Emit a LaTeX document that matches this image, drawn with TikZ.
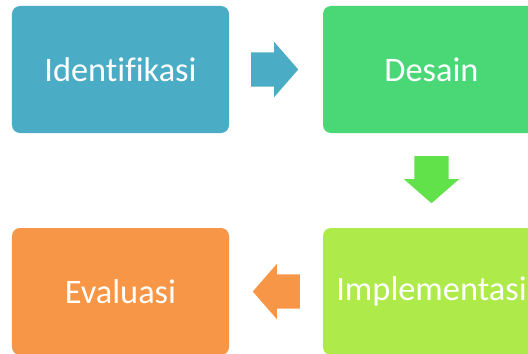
\documentclass[tikz,border=0pt]{standalone}
\usepackage{fontspec}
\setmainfont{Carlito}[Ligatures=NoCommon]
\usetikzlibrary{shapes.arrows,calc}
\definecolor{identblue}{HTML}{4BACC6}
\definecolor{desaingreen}{HTML}{4AD877}
\definecolor{arrowgreen}{HTML}{62E24A}
\definecolor{implime}{HTML}{ADEA4A}
\definecolor{evalorange}{HTML}{F79646}
\begin{document}
\begin{tikzpicture}[
    x=1bp,
    y=1bp,
    font=\fontsize{34.5}{40}\selectfont,
    block/.style={
        rectangle,
        rounded corners=8bp,
        text=white,
        align=center,
        minimum width=217bp,
        minimum height=127bp,
        inner sep=0pt
    },
    blockarrow/.style={
        single arrow,
        anchor=tail,
        minimum height=47bp,
        single arrow head extend=10.5bp,
        single arrow tip angle=98,
        outer sep=0pt
    },
    flat/.style={inner xsep=0pt, inner ysep=17bp},
    upright/.style={inner xsep=17bp, inner ysep=0pt}
]

\useasboundingbox (0,0) rectangle (528,353);

\begin{scope}
\clip (0,0) rectangle (528,353);

\node[block, fill=identblue] (ident) at (120.5,283.5)
{Identifikasi};

\node[block, fill=desaingreen] (desain) at (431.5,283.5)
{Desain};

\node[block, fill=implime] (impl) at (431.5,61.5)
{Implementasi};

\node[block, fill=evalorange] (eval) at (120.5,61.5)
{Evaluasi};

\node[blockarrow, flat, fill=identblue] (toDesain)
at ($(ident.east)+(22,0)$) {};

\node[blockarrow, upright, fill=arrowgreen, shape border rotate=270] (toImpl)
at ($(desain.south)+(0,-23)$) {};

\node[blockarrow, flat, fill=evalorange, shape border rotate=180] (toEval)
at ($(impl.west)+(-23,0)$) {};
\end{scope}

\end{tikzpicture}
\end{document}
